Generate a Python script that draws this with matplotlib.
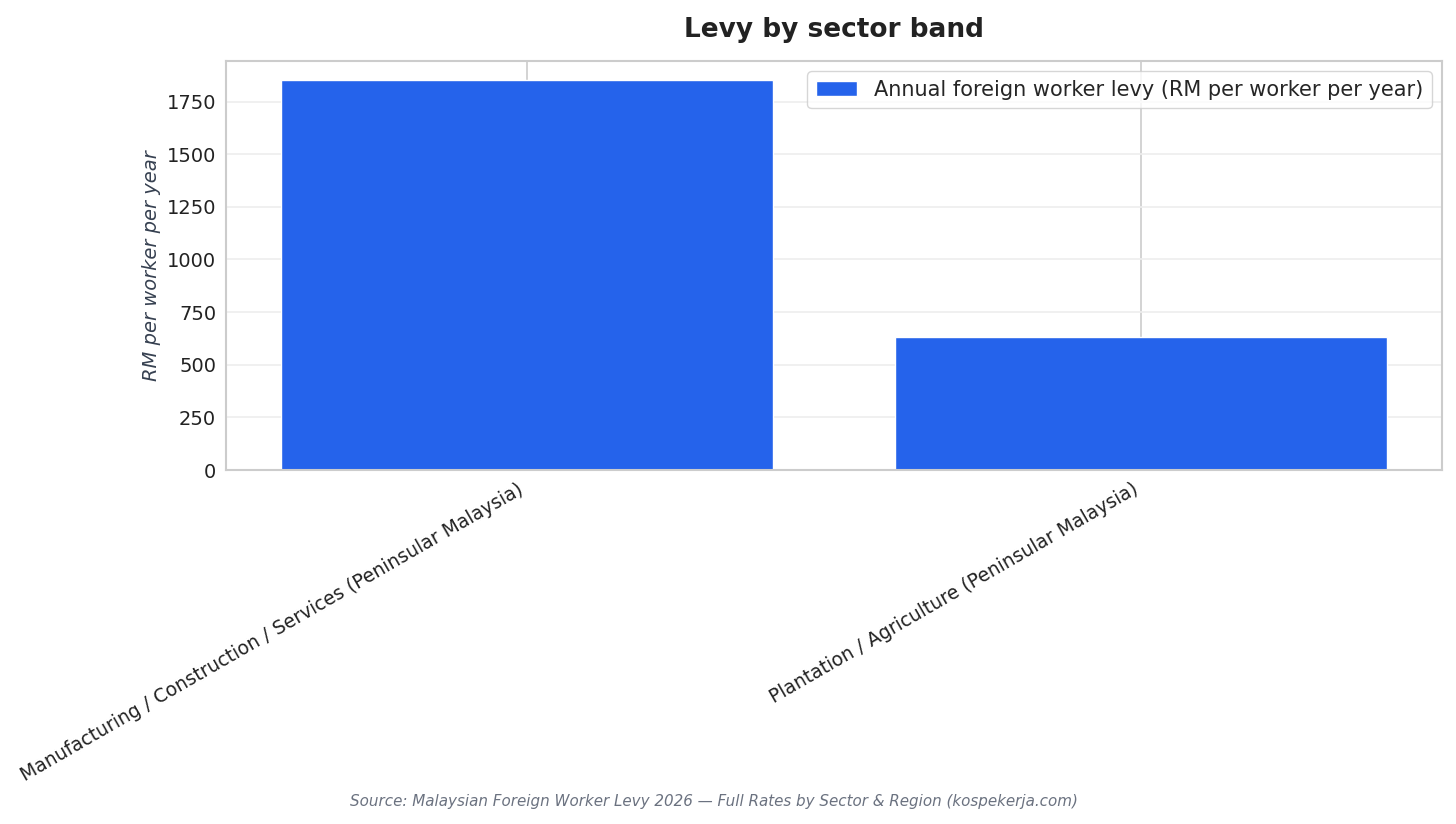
import matplotlib
matplotlib.use("Agg")
import matplotlib.pyplot as plt
import seaborn as sns

sectors = [
    "Manufacturing / Construction / Services (Peninsular Malaysia)",
    "Plantation / Agriculture (Peninsular Malaysia)",
]
levy = [1850, 630]
series_name = "Annual foreign worker levy (RM per worker per year)"

sns.set_style("whitegrid")
plt.rcParams["font.family"] = ["DejaVu Sans"]

fig, ax = plt.subplots(figsize=(14.56, 8.24), dpi=100)
fig.subplots_adjust(left=0.1552, right=0.9904, top=0.926, bottom=0.4296)

ax.bar(sectors, levy, width=0.8, color="#2563eb", label=series_name, zorder=2)

ax.set_title("Levy by sector band", fontsize=19, fontweight="bold", color="#222222", pad=17)
ax.set_ylabel("RM per worker per year", fontsize=14, style="italic", color="#374151")
ax.tick_params(axis="y", labelsize=14, colors="#222222")
ax.tick_params(axis="x", labelsize=13.5, colors="#222222")
plt.setp(ax.get_xticklabels(), rotation=30, ha="right")

ax.yaxis.grid(True, color="#eeeeee", linewidth=1.2)
ax.xaxis.grid(True, color="#cccccc", linewidth=1.2)
for s in ax.spines.values():
    s.set_color("#cccccc")
    s.set_linewidth(1.5)

ax.legend(loc="upper right", fontsize=15, frameon=True, edgecolor="#cccccc")

# source line sits a little left of the figure centre in the original
fig.text(0.4904, 0.022, "Source: Malaysian Foreign Worker Levy 2026 \u2014 Full Rates by Sector & Region (kospekerja.com)",
         ha="center", fontsize=10.9, style="italic", color="#6b7280")

fig.savefig("out.png", dpi=100)
